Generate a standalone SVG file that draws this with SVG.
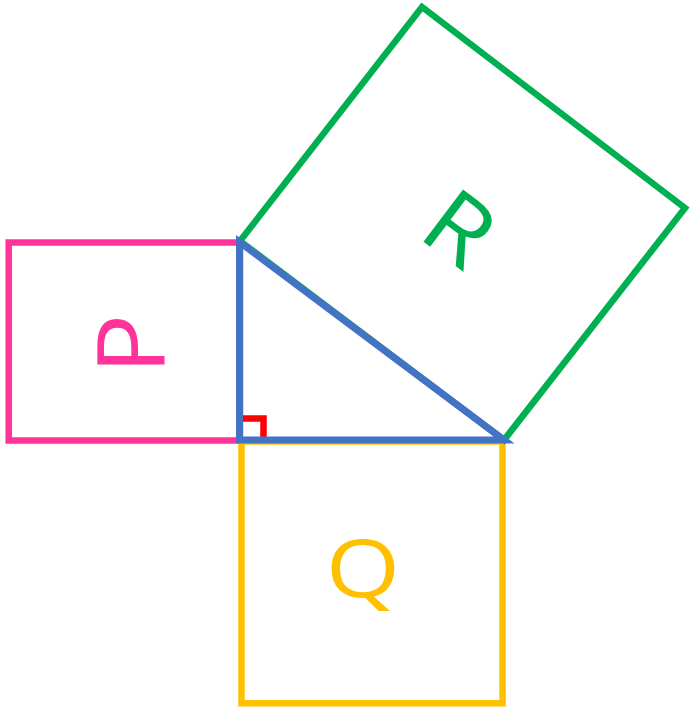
<svg xmlns="http://www.w3.org/2000/svg" width="691" height="711" viewBox="0 0 691 711">
<style>
.sq{fill:none;stroke-width:6.5;stroke-linejoin:miter}
.lbl{font-family:"Open Sans","Liberation Sans",sans-serif;text-anchor:middle}
</style>
<rect width="691" height="711" fill="#fff"/>
<g id="square-P">
<rect class="sq" x="8.7" y="242.5" width="231.3" height="198" stroke="#FF3399"/>
<text class="lbl" transform="translate(164,344) rotate(-90) scale(1.08,1)" x="0" y="0" font-size="93" fill="#FF3399">P</text>
</g>
<g id="square-Q">
<rect class="sq" x="241.5" y="441.5" width="261" height="261.8" stroke="#FFC000"/>
<text class="lbl" transform="translate(363,597) scale(1.18,1)" x="0" y="0" font-size="81" fill="#FFC000">Q</text>
</g>
<g id="square-R">
<polygon class="sq" points="240,241 422,7 685,208 504,440" stroke="#00B050"/>
<text class="lbl" transform="translate(460,228) rotate(37) scale(1.08,1)" x="0" y="33" font-size="92" fill="#00B050">R</text>
</g>
<g id="connectors">
<path d="M239,418.5 H263.5 V443" fill="none" stroke="#FF0000" stroke-width="6.5"/>
<polygon points="239.5,242 239.5,440 504,440" fill="none" stroke="#4472C4" stroke-width="7" stroke-linejoin="miter"/>
</g>
</svg>
